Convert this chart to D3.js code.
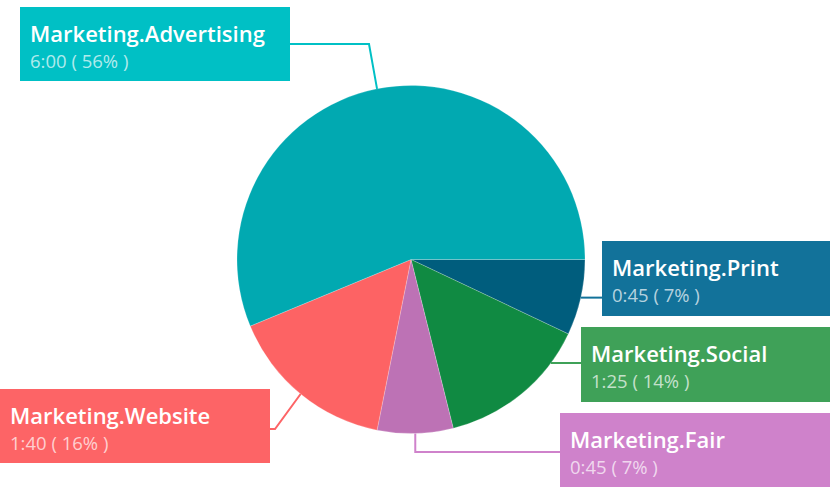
<!DOCTYPE html>
<html>
<head>
<meta charset="utf-8">
<script src="https://cdn.jsdelivr.net/npm/d3@7"></script>
<style>
  body { margin: 0; background: #fff; }
  text { font-family: "Segoe UI", "Open Sans", "Noto Sans", sans-serif; }
</style>
</head>
<body>
<div id="chart"></div>
<script>
var width = 830;
var height = 493;

// data, in clockwise order starting at 3 o'clock
var categories = ["Marketing.Print", "Marketing.Social", "Marketing.Fair", "Marketing.Website", "Marketing.Advertising"];
// slice sizes in minutes
var minutes = [45, 90, 45, 100, 360];
var timeLabels = ["0:45", "1:25", "0:45", "1:40", "6:00"];
var pctLabels = ["7%", "14%", "7%", "16%", "56%"];

var sliceColors = ["#005d7d", "#108a42", "#bd72b5", "#fd6364", "#01a9b1"];
var boxColors = ["#12729a", "#3fa158", "#cf82cb", "#fd6466", "#00c0c5"];

// label boxes + leader elbows (leader starts on the pie edge)
var cx = 411, cy = 259.5, radius = 174;
var boxes = [
  { x: 602, y: 241, w: 228, h: 75, side: "right" },
  { x: 581, y: 327, w: 249, h: 75, side: "right", horiz: 363 },
  { x: 560, y: 413, w: 270, h: 74, side: "down", ly: 452 },
  { x: 0,   y: 389, w: 270, h: 74, side: "left", ly: 429, elbowX: 275 },
  { x: 20,  y: 7,   w: 270, h: 74, side: "up", ly: 44, elbowX: 369 }
];

var svg = d3.select("#chart")
  .append("svg")
  .attr("width", width)
  .attr("height", height);

var pie = d3.pie()
  .sort(null)
  .value(function(d) { return d; })
  .startAngle(Math.PI / 2)
  .endAngle(Math.PI / 2 + 2 * Math.PI);

var arcs = pie(minutes);

var arc = d3.arc().innerRadius(0).outerRadius(radius);

var g = svg.append("g")
  .attr("transform", "translate(" + cx + "," + cy + ")");

g.selectAll("path.slice")
  .data(arcs)
  .enter().append("path")
  .attr("class", "slice")
  .attr("d", arc)
  .attr("fill", function(d, i) { return sliceColors[i]; })
  .attr("stroke", "#fff")
  .attr("stroke-opacity", 0.35)
  .attr("stroke-width", 0.6);

// leader lines
function edgePoint(a) {
  var mid = (a.startAngle + a.endAngle) / 2;
  return [cx + Math.sin(mid) * radius, cy - Math.cos(mid) * radius];
}

arcs.forEach(function(a, i) {
  var b = boxes[i];
  var p = edgePoint(a);
  var pts;
  if (b.side == "right" && b.horiz) {
    var dy = b.horiz - cy;
    var ex = cx + Math.sqrt(radius * radius - dy * dy);
    pts = [[ex, b.horiz], [b.x, b.horiz]];
  } else if (b.side == "right") {
    pts = [p, [b.x, p[1]]];
  } else if (b.side == "down") {
    pts = [p, [p[0], b.ly], [b.x, b.ly]];
  } else {
    pts = [p, [b.elbowX, b.ly], [b.x + b.w, b.ly]];
  }
  svg.append("path")
    .attr("d", d3.line()(pts))
    .attr("fill", "none")
    .attr("stroke", boxColors[i])
    .attr("stroke-width", 2);
});

// label boxes
var labels = svg.selectAll(".label")
  .data(categories)
  .enter().append("g")
  .attr("class", "label")
  .attr("transform", function(d, i) { return "translate(" + boxes[i].x + "," + boxes[i].y + ")"; });

labels.append("rect")
  .attr("width", function(d, i) { return boxes[i].w; })
  .attr("height", function(d, i) { return boxes[i].h; })
  .attr("fill", function(d, i) { return boxColors[i]; });

labels.append("text")
  .attr("x", 10)
  .attr("y", 35)
  .attr("fill", "#fff")
  .style("font-size", "22px")
  .style("font-weight", 600)
  .text(function(d) { return d; });

labels.append("text")
  .attr("x", 10)
  .attr("y", 60.5)
  .attr("fill", "#fff")
  .attr("fill-opacity", 0.7)
  .style("font-size", "18.5px")
  .text(function(d, i) { return timeLabels[i] + " ( " + pctLabels[i] + " )"; });
</script>
</body>
</html>
